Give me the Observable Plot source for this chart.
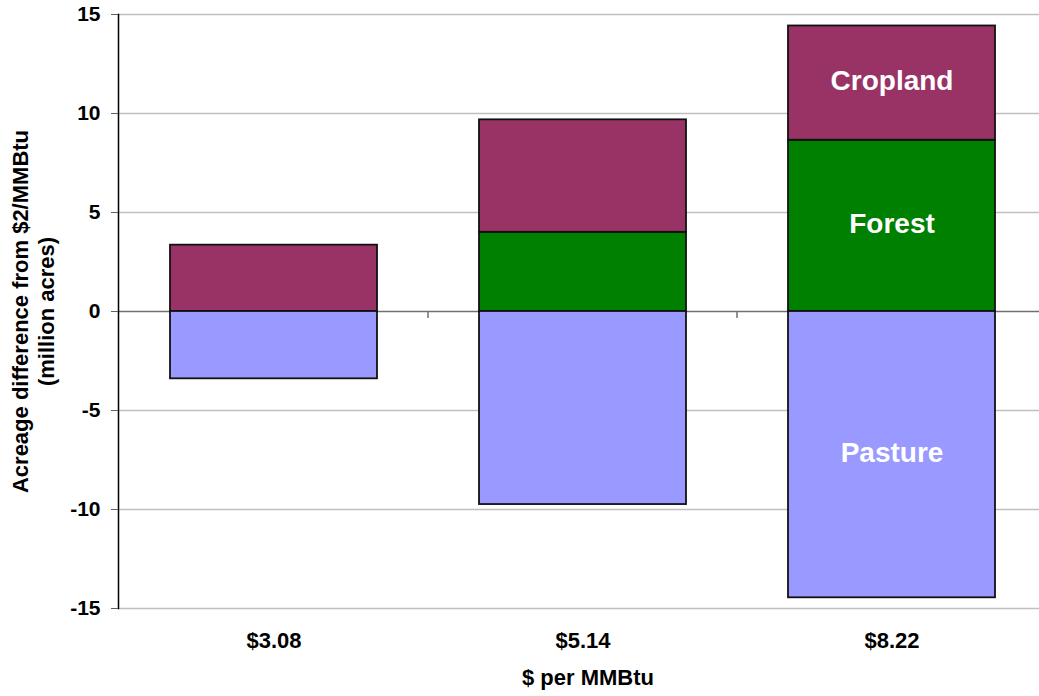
<!DOCTYPE html>
<html>
<head>
<meta charset="utf-8">
<script src="https://cdn.jsdelivr.net/npm/d3@7"></script>
<script src="https://cdn.jsdelivr.net/npm/@observablehq/plot@0.6"></script>
<style>
  html, body { margin: 0; padding: 0; background: #fff; overflow: hidden; }
</style>
</head>
<body>
<div id="chart"></div>
<script>
// Change in land use acreage relative to the $2/MMBtu case (million acres)
const prices = ["$3.08", "$5.14", "$8.22"];
const uses = ["Forest", "Cropland", "Pasture"];
const forest = [0, 4.0, 8.65];
const cropland = [3.35, 5.68, 5.77];
const pasture = [-3.4, -9.75, -14.46];
const yTicks = [-15, -10, -5, 0, 5, 10, 15];
const useColors = ["#008000", "#993366", "#9999ff"];

const series = { Forest: forest, Cropland: cropland, Pasture: pasture };
const data = prices.flatMap((price, i) =>
  uses.map(use => ({ price, use, value: series[use][i] }))
);

const font = "'Liberation Sans', Arial, Helvetica, sans-serif";

const chart = Plot.plot({
  width: 1039,
  height: 696,
  marginLeft: 118,
  marginRight: -8, // plot area runs slightly past the right edge
  marginTop: 14,
  marginBottom: 88,
  style: { fontFamily: font, fontWeight: "bold", background: "#fff", color: "#000", overflow: "hidden" },
  x: { domain: prices, paddingInner: 0.331, paddingOuter: 0.166, label: null },
  y: { domain: [-15, 15], label: null },
  color: { domain: uses, range: useColors },
  marks: [
    Plot.gridY(yTicks.filter(d => d !== 0), { stroke: "#c0c0c0", strokeOpacity: 1, strokeWidth: 1.5 }),
    Plot.ruleY([0], { stroke: "#707070", strokeWidth: 1.5 }),
    Plot.barY(data, {
      x: "price", y: "value", z: "use", fill: "use",
      stroke: "#111", strokeWidth: 1.8
    }),
    Plot.text(data.filter(d => d.price === "$8.22"), Plot.stackY({
      x: "price", y: "value", z: "use", text: "use",
      fill: "#fff", fontSize: 28, fontWeight: "bold", dy: -2
    })),
    Plot.frame({ anchor: "left", stroke: "#000", strokeWidth: 1.5 }),
    Plot.axisY({
      ticks: yTicks, tickFormat: d => String(d), tickSize: 7, tickPadding: 11, fontSize: 21,
      stroke: "#606060", fill: "#000", label: null
    }),
    Plot.axisX({ tickSize: 0, tickPadding: 24, fontSize: 22, fill: "#000", label: null }),
    Plot.text(["$ per MMBtu"], {
      frameAnchor: "bottom", dx: 5, dy: 69, fontSize: 22, lineAnchor: "middle", fill: "#000"
    }),
    Plot.text(["Acreage difference from $2/MMBtu\n(million acres)"], {
      frameAnchor: "left", dx: -86, rotate: -90, textAnchor: "middle",
      lineAnchor: "middle", fontSize: 22, lineHeight: 1.18, fill: "#000"
    })
  ]
});

// Category separator ticks hanging below the zero line
const xs = chart.scale("x");
const y0 = chart.scale("y").apply(0);
const sep = d3.select(chart).append("g").attr("stroke", "#707070").attr("stroke-width", 1.5);
prices.slice(0, -1).forEach(p => {
  const bx = xs.apply(p) + xs.bandwidth + (xs.step - xs.bandwidth) / 2;
  sep.append("line").attr("x1", bx).attr("x2", bx).attr("y1", y0).attr("y2", y0 + 7);
});

document.getElementById("chart").append(chart);
</script>
</body>
</html>
